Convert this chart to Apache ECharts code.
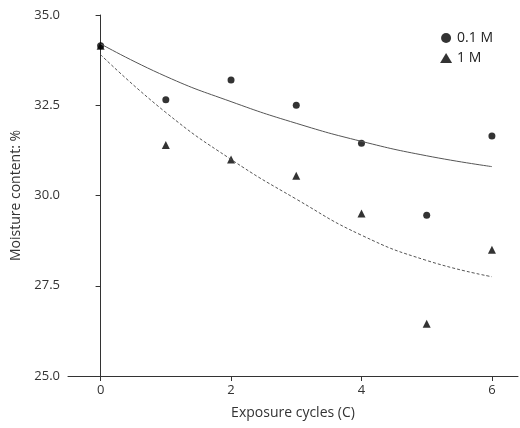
<!DOCTYPE html>
<html><head><meta charset="utf-8">
<script src="https://cdn.jsdelivr.net/npm/echarts@6/dist/echarts.min.js"></script>
<style>html,body{margin:0;padding:0;background:#fff}#c{width:520px;height:428px}</style>
</head><body><div id="c"></div>
<script>
const cycles = [0, 1, 2, 3, 4, 5, 6];
const m01 = [34.15, 32.65, 33.2, 32.5, 31.45, 29.45, 31.65];
const m1 = [34.15, 31.4, 31.0, 30.55, 29.5, 26.45, 28.5];
const fit01 = [34.2, 33.3, 32.6, 32.0, 31.5, 31.1, 30.8];
const fit1 = [33.9, 32.3, 31.0, 29.9, 28.9, 28.2, 27.75];
const xTicks = [0, 2, 4, 6];
const pair = (xs, ys) => xs.map((x, i) => [x, ys[i]]);
const font = '"Open Sans", "Noto Sans", sans-serif';
const chart = echarts.init(document.getElementById('c'));
chart.setOption({
  animation: false,
  textStyle: {fontFamily: font},
  grid: {left: 68, right: 2, top: 15, bottom: 52},
  legend: {
    top: 26, right: 22, orient: 'vertical', itemGap: 6, itemWidth: 12, itemHeight: 10,
    textStyle: {fontSize: 14, color: '#222', fontFamily: font},
    data: [{name: '0.1 M', icon: 'circle'}, {name: '1 M', icon: 'triangle'}]
  },
  xAxis: {
    type: 'value', min: -0.5, max: 6.4,
    name: 'Exposure cycles (C)', nameLocation: 'middle', nameGap: 30,
    nameTextStyle: {fontSize: 14, color: '#333'},
    splitLine: {show: false},
    axisLine: {lineStyle: {color: '#333'}},
    axisTick: {inside: false, length: 5, customValues: xTicks, lineStyle: {color: '#333'}},
    axisLabel: {customValues: xTicks, fontSize: 13, color: '#333'}
  },
  yAxis: {
    type: 'value', min: 25, max: 35, interval: 2.5,
    name: 'Moisture content: %', nameLocation: 'middle', nameGap: 44,
    nameTextStyle: {fontSize: 14, color: '#333'},
    splitLine: {show: false},
    axisLine: {show: true, lineStyle: {color: '#333'}},
    axisTick: {show: true, length: 5, lineStyle: {color: '#333'}},
    axisLabel: {fontSize: 13, color: '#333', formatter: v => v.toFixed(1)}
  },
  series: [
    {name: '0.1 M', type: 'scatter', symbol: 'circle', symbolSize: 7, itemStyle: {color: '#000'}, data: pair(cycles, m01)},
    {name: '1 M', type: 'scatter', symbol: 'triangle', symbolSize: 8, itemStyle: {color: '#000'}, data: pair(cycles, m1)},
    {name: 'fit01', type: 'line', smooth: true, showSymbol: false, lineStyle: {color: '#555', width: 1}, data: pair(cycles, fit01)},
    {name: 'fit1', type: 'line', smooth: true, showSymbol: false, lineStyle: {color: '#555', width: 1, type: [3, 2]}, data: pair(cycles, fit1)}
  ]
});
</script></body></html>
